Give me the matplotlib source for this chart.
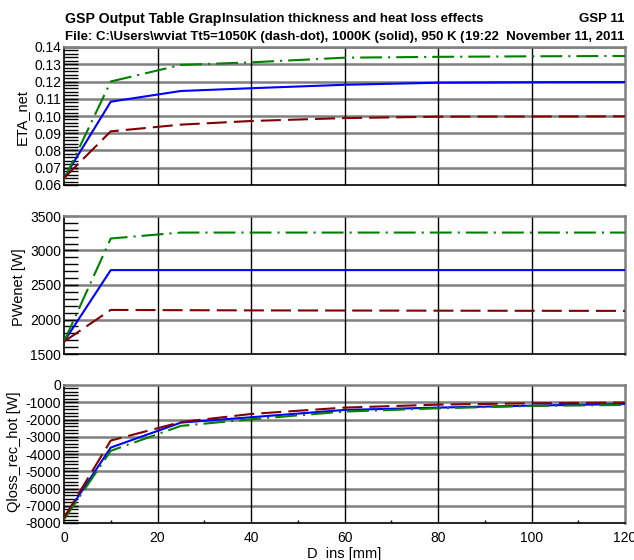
import matplotlib
matplotlib.use("Agg")
import matplotlib.pyplot as plt
from matplotlib.ticker import MultipleLocator, FormatStrFormatter

plt.rcParams['font.family'] = ['Liberation Sans', 'DejaVu Sans']
plt.rcParams['axes.unicode_minus'] = False

# Insulation thickness [mm]
d_ins = [0, 10, 25, 40, 60, 80, 100, 120]

# Net efficiency
eta_1050 = [0.063, 0.120, 0.1296, 0.1311, 0.1338, 0.1343, 0.1346, 0.1348]
eta_1000 = [0.064, 0.1083, 0.1145, 0.1161, 0.1181, 0.1193, 0.1196, 0.1197]
eta_950 = [0.064, 0.0911, 0.0950, 0.0971, 0.0988, 0.0996, 0.0997, 0.0998]

# Net power [W]
pw_1050 = [1680, 3174, 3260, 3260, 3260, 3260, 3260, 3260]
pw_1000 = [1680, 2716, 2716, 2716, 2716, 2716, 2716, 2716]
pw_950 = [1680, 2139, 2135, 2132, 2130, 2128, 2126, 2125]

# Receiver hot heat loss [W]
q_1050 = [-7800, -3817, -2370, -1985, -1540, -1350, -1215, -1157]
q_1000 = [-7710, -3626, -2180, -1870, -1446, -1310, -1195, -1100]
q_950 = [-7700, -3220, -2150, -1680, -1310, -1138, -1060, -1020]

green, blue, red = '#008000', '#0000FF', '#800000'
lw = 1.5
dash_red = (9.6, 3.4)
dash_green = (10.5, 2.9, 1.0, 2.9)

W, H = 634, 560
fig = plt.figure(figsize=(W / 100, H / 100), dpi=100)

def px_axes(top, bottom, left=64, right=625):
    return fig.add_axes([left / W, 1 - bottom / H, (right - left) / W, (bottom - top) / H])

panels = [
    (px_axes(47, 185), (eta_1050, eta_1000, eta_950), (0.06, 0.14), 0.01, 0.002, 'ETA_net', 22, 117),
    (px_axes(216, 354), (pw_1050, pw_1000, pw_950), (1500, 3500), 500, 100, 'PWenet [W]', 19, 287),
    (px_axes(385, 523), (q_1050, q_1000, q_950), (-8000, 0), 1000, 200, 'Qloss_rec_hot [W]', 14, 452),
]

for i, (ax, (s1, s2, s3), ylim, major, minor, label, xlab, ymid) in enumerate(panels):
    ax.plot(d_ins, s2, color=blue, lw=lw, zorder=4)
    ax.plot(d_ins, s1, color=green, lw=lw, dashes=dash_green, zorder=5)
    ax.plot(d_ins, s3, color=red, lw=lw, dashes=dash_red, zorder=5)
    ax.set_xlim(0, 120)
    ax.set_ylim(*ylim)
    ax.xaxis.set_major_locator(MultipleLocator(20))
    ax.yaxis.set_major_locator(MultipleLocator(major))
    ax.yaxis.set_minor_locator(MultipleLocator(minor))
    for y in ax.get_yticks():
        if ylim[0] < y < ylim[1]:
            ax.axhline(y, color='#7f7f7f', lw=1.8, zorder=1)
    for x in range(20, 120, 20):
        ax.axvline(x, color='black', lw=1.0, zorder=1)
    ax.tick_params(axis='y', which='both', direction='in', length=10, width=1.0,
                   color='black', left=True, right=False, labelsize=10, pad=2)
    if i < 2:
        ax.tick_params(axis='x', which='both', bottom=False, labelbottom=False)
    else:
        ax.xaxis.set_minor_locator(MultipleLocator(10))
        ax.tick_params(axis='x', which='major', direction='in', length=0, labelsize=10, pad=6)
        ax.tick_params(axis='x', which='minor', direction='in', length=2.5, width=1.0)
    if i == 0:
        ax.yaxis.set_major_formatter(FormatStrFormatter('%.2f'))
    for side in ('left', 'bottom'):
        ax.spines[side].set_color('black')
        ax.spines[side].set_linewidth(1.2)
    for side in ('top', 'right'):
        ax.spines[side].set_color('#7f7f7f')
        ax.spines[side].set_linewidth(1.8)
    fig.text(xlab / W, 1 - ymid / H, label, rotation=90, ha='center', va='center', fontsize=10.5)

fig.text(344 / W, 1 - 554 / H, 'D_ins [mm]', ha='center', va='center', fontsize=10.5)

# Header lines
fig.text(65 / W, 1 - 19 / H, 'GSP Output Table Graph', ha='left', va='center',
         fontsize=10.2, fontweight='bold')
fig.text(222 / W, 1 - 19 / H, 'Insulation thickness and heat loss effects', ha='left',
         va='center', fontsize=9.5, fontweight='bold',
         bbox=dict(facecolor='white', edgecolor='none', pad=0.8))
fig.text(624 / W, 1 - 19 / H, 'GSP 11', ha='right', va='center', fontsize=9.5, fontweight='bold')
fig.text(65 / W, 1 - 37 / H, 'File: C:\\Users\\wviat Tt5=1050K (dash-dot), 1000K (solid), 950 K (',
         ha='left', va='center', fontsize=9.5, fontweight='bold')
fig.text(624 / W, 1 - 37 / H, '19:22  November 11, 2011', ha='right', va='center',
         fontsize=9.5, fontweight='bold',
         bbox=dict(facecolor='white', edgecolor='none', pad=0.5))

fig.savefig('out.png', dpi=100, facecolor='white')
